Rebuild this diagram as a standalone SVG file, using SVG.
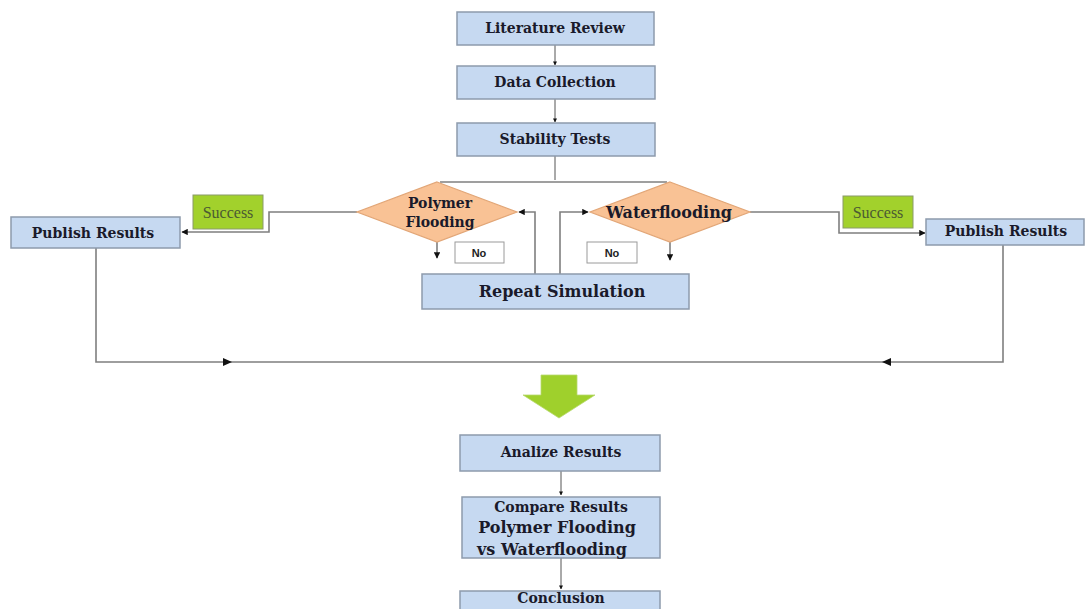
<svg xmlns="http://www.w3.org/2000/svg" width="1086" height="609" viewBox="0 0 1086 609">
<style>
.box{fill:#c6d9f1;stroke:#8d9aac;stroke-width:1.5}
.dia{fill:#f9c295;stroke:#e2a677;stroke-width:1.2}
.succ{fill:#a2d12c;stroke:#8a9a6a;stroke-width:1}
.nob{fill:#ffffff;stroke:#9a9a9a;stroke-width:1}
.t{font-family:"DejaVu Serif","Liberation Serif",serif;font-weight:bold;fill:#1a1a2a;text-anchor:middle}
.s{font-family:"Liberation Serif","DejaVu Serif",serif;font-size:16px;fill:#4b5a33;text-anchor:middle}
.n{font-family:"Liberation Sans",Arial,sans-serif;font-weight:bold;font-size:11px;fill:#222;text-anchor:middle}
.c{fill:none;stroke:#7f7f7f;stroke-width:1.6}
.c2{fill:none;stroke:#555;stroke-width:1}
</style>
<defs>
<marker id="ah" viewBox="0 0 10 10" refX="9" refY="5" markerWidth="4" markerHeight="4" orient="auto" markerUnits="strokeWidth">
<path d="M0,0 L10,5 L0,10 z" fill="#111"/>
</marker>
</defs>
<rect width="1086" height="609" fill="#ffffff"/>
<g id="connectors">
<path class="c2" d="M555,45 V65" marker-end="url(#ah)"/>
<path class="c2" d="M555,99 V122" marker-end="url(#ah)"/>
<path class="c2" d="M555,156 V180"/>
<path class="c" d="M440,182 H667"/>
<path class="c" d="M357,212 H269 V232 H182" marker-end="url(#ah)"/>
<path class="c" d="M750,212 H839 V233 H925" marker-end="url(#ah)"/>
<path class="c" d="M437,242 V258" marker-end="url(#ah)"/>
<path class="c" d="M670,242 V260" marker-end="url(#ah)"/>
<path class="c" d="M535,274 V212 H519" marker-end="url(#ah)"/>
<path class="c" d="M560,274 V212 H588" marker-end="url(#ah)"/>
<path class="c" d="M96,248 V362 H1003 V245"/>
<path d="M223,358 L232,362 L223,366 z" fill="#111"/>
<path d="M891,358 L882,362 L891,366 z" fill="#111"/>
<path class="c2" d="M561,471 V495" marker-end="url(#ah)"/>
<path class="c2" d="M561,558 V589" marker-end="url(#ah)"/>
</g>
<g id="lit"><rect class="box" x="457" y="12" width="197" height="33"/><text class="t" x="555" y="33" font-size="14">Literature Review</text></g>
<g id="data"><rect class="box" x="457" y="66" width="198" height="33"/><text class="t" x="555" y="87" font-size="14">Data Collection</text></g>
<g id="stab"><rect class="box" x="457" y="123" width="198" height="33"/><text class="t" x="555" y="144" font-size="14">Stability Tests</text></g>
<g id="poly"><path class="dia" d="M437,182 L517,212 L437,242 L357,212 z"/><text class="t" x="440" y="208" font-size="14">Polymer</text><text class="t" x="440" y="227" font-size="14">Flooding</text></g>
<g id="water"><path class="dia" d="M670,182 L750,212 L670,242 L590,212 z"/><text class="t" x="669" y="218" font-size="16">Waterflooding</text></g>
<g id="no1"><rect class="nob" x="455" y="242" width="49" height="21"/><text class="n" x="479" y="257">No</text></g>
<g id="no2"><rect class="nob" x="587" y="242" width="50" height="21"/><text class="n" x="612" y="257">No</text></g>
<g id="repeat"><rect class="box" x="422" y="274" width="267" height="35"/><text class="t" x="562" y="297" font-size="16">Repeat Simulation</text></g>
<g id="succ1"><rect class="succ" x="193" y="195" width="70" height="34"/><text class="s" x="228" y="218">Success</text></g>
<g id="succ2"><rect class="succ" x="843" y="196" width="70" height="32"/><text class="s" x="878" y="218">Success</text></g>
<g id="pub1"><rect class="box" x="11" y="217" width="169" height="31"/><text class="t" x="93" y="238" font-size="14">Publish Results</text></g>
<g id="pub2"><rect class="box" x="926" y="219" width="158" height="26"/><text class="t" x="1006" y="236" font-size="14">Publish Results</text></g>
<g id="bigarrow"><path d="M541,375 H577 V395 H595 L559,418 L523,395 H541 z" fill="#9fd02c" stroke="#b8d870" stroke-width="0.8"/></g>
<g id="analize"><rect class="box" x="460" y="435" width="200" height="36"/><text class="t" x="561" y="457" font-size="14">Analize Results</text></g>
<g id="compare"><rect class="box" x="462" y="497" width="198" height="61"/><text class="t" x="561" y="512" font-size="14">Compare Results</text><text class="t" x="557" y="533" font-size="16">Polymer Flooding</text><text class="t" x="552" y="555" font-size="16">vs Waterflooding</text></g>
<g id="concl"><rect class="box" x="460" y="591" width="200" height="24"/><text class="t" x="561" y="603" font-size="14">Conclusion</text></g>
</svg>
